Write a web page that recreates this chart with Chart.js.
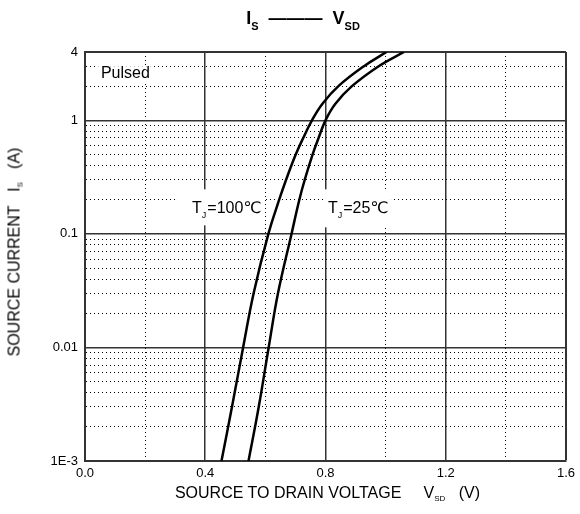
<!DOCTYPE html>
<html>
<head>
<meta charset="utf-8">
<style>
  body { margin: 0; background: #fff; font-family: "Liberation Sans", Arial, sans-serif; }
  #wrap { position: relative; width: 580px; height: 514px; }
  .lbl { position: absolute; color: #000; white-space: nowrap; }
  .lbl sub { font-size: 8px; vertical-align: -3px; }
  #title { left: 0; width: 606px; top: 8px; text-align: center; font-weight: bold; font-size: 18px; }
  #title sub { font-size: 11px; vertical-align: -6px; }
  #xtitle { left: 85px; width: 485px; top: 484px; text-align: center; font-size: 16px; }
  #ytitle { left: 15px; top: 252px; font-size: 16px; transform: translate(-50%, -50%) rotate(-90deg); }
</style>
</head>
<body>
<div id="wrap">
  <canvas id="myChart" width="580" height="514"></canvas>
  <div class="lbl" id="title">I<sub>S</sub>&nbsp;&nbsp;———&nbsp;&nbsp;V<sub>SD</sub></div>
  <div class="lbl" id="xtitle">SOURCE TO DRAIN VOLTAGE&nbsp;&nbsp;&nbsp;&nbsp;&nbsp;V<sub>SD</sub>&nbsp;&nbsp;&nbsp;(V)</div>
  <div class="lbl" id="ytitle">SOURCE CURRENT&nbsp;&nbsp;&nbsp;I<sub>S</sub>&nbsp;&nbsp;&nbsp;(A)</div>
</div>

<script src="https://cdn.jsdelivr.net/npm/chart.js"></script>
<script>
// curves: voltage (V) vs source current (A)
const vsd100 = [0.454, 0.489, 0.526, 0.561, 0.610, 0.646, 0.669, 0.701, 0.726, 0.755, 0.790, 0.843, 0.928, 1.003];
const is100  = [0.001, 0.003, 0.01,  0.03,  0.1,   0.2,   0.3,   0.5,   0.7,   1,     1.4,   2,     3,     4];
const vsd25  = [0.544, 0.578, 0.611, 0.642, 0.687, 0.713, 0.731, 0.757, 0.777, 0.800, 0.833, 0.888, 0.977, 1.061];
const is25   = [0.001, 0.003, 0.01,  0.03,  0.1,   0.2,   0.3,   0.5,   0.7,   1,     1.4,   2,     3,     4];

const xTicks = [0, 0.2, 0.4, 0.6, 0.8, 1.0, 1.2, 1.4, 1.6];
const xLabels = ["0.0", "", "0.4", "", "0.8", "", "1.2", "", "1.6"];
const yTicks = [0.001,0.002,0.003,0.004,0.005,0.006,0.007,0.008,0.009,
                0.01,0.02,0.03,0.04,0.05,0.06,0.07,0.08,0.09,
                0.1,0.2,0.3,0.4,0.5,0.6,0.7,0.8,0.9,
                1,2,3,4];
const yMajor = [0.001, 0.01, 0.1, 1, 4];
const yLabels = {"0.001":"1E-3", "0.01":"0.01", "0.1":"0.1", "1":"1", "4":"4"};

const notes = [
  { text: "Pulsed", x: 0.053, y: 2.6, box: [-3, -7, 56, 15] },
  { text: "T", sub: "J", rest: "=100℃", x: 0.356, y: 0.168, box: [-15, -19, 88, 36] },
  { text: "T", sub: "J", rest: "=25℃", x: 0.808, y: 0.168, box: [-3, -19, 66, 38] }
];

const pts = (xs, ys) => xs.map((x, i) => ({x: x, y: ys[i]}));
const isMajorY = v => yMajor.some(m => Math.abs(m - v) < 1e-9);

const notePlugin = {
  id: 'notes',
  beforeDatasetsDraw(chart) {
    const c = chart.ctx, sx = chart.scales.x, sy = chart.scales.y;
    c.save();
    notes.forEach(n => {
      const px = sx.getPixelForValue(n.x), py = sy.getPixelForValue(n.y);
      c.fillStyle = '#fff';
      c.fillRect(px + n.box[0], py + n.box[1], n.box[2], n.box[3]);
      c.fillStyle = '#000';
      c.textBaseline = 'middle';
      c.font = '16px "Liberation Sans", Arial, sans-serif';
      c.fillText(n.text, px, py);
      if (n.sub) {
        let w = c.measureText(n.text).width;
        c.font = '9px "Liberation Sans", Arial, sans-serif';
        c.fillText(n.sub, px + w, py + 7);
        w += c.measureText(n.sub).width + 1;
        c.font = '16px "Liberation Sans", "DejaVu Sans", sans-serif';
        c.fillText(n.rest, px + w, py);
      }
    });
    c.restore();
  }
};

const ctx = document.getElementById('myChart');
new Chart(ctx, {
  type: 'scatter',
  data: {
    datasets: [
      { label: 'TJ=100', data: pts(vsd100, is100), showLine: true, borderColor: '#000',
        borderWidth: 2.5, pointRadius: 0, tension: 0.4 },
      { label: 'TJ=25', data: pts(vsd25, is25), showLine: true, borderColor: '#000',
        borderWidth: 2.5, pointRadius: 0, tension: 0.4 }
    ]
  },
  options: {
    responsive: false,
    animation: false,
    devicePixelRatio: 1,
    layout: { padding: { top: 52, right: 10, left: 0, bottom: 0 } },
    plugins: { legend: { display: false }, tooltip: { enabled: false } },
    scales: {
      x: {
        type: 'linear', min: 0, max: 1.6,
        afterBuildTicks: s => { s.ticks = xTicks.map(v => ({value: v})); },
        afterFit: s => { s.height = 53; },
        ticks: {
          autoSkip: false, maxRotation: 0, padding: 5, color: '#000',
          font: { family: '"Liberation Sans", Arial, sans-serif', size: 13 },
          callback: (v, i) => xLabels[i]
        },
        grid: {
          drawTicks: false,
          color: c => (c.index % 2 === 0 || c.index === 8) ? '#333' : '#000',
          lineWidth: c => (c.index === 8) ? 2 : (c.index % 2 === 0 ? 1.5 : 1)
        },
        border: {
          display: true, color: '#333', width: 2,
          dash: c => (c.tick && c.index % 2 === 1) ? [1, 3] : []
        }
      },
      y: {
        type: 'logarithmic', min: 0.001, max: 4,
        afterBuildTicks: s => { s.ticks = yTicks.map(v => ({value: v})); },
        afterFit: s => { s.width = 85; },
        ticks: {
          autoSkip: false, padding: 7, color: '#000',
          font: { family: '"Liberation Sans", Arial, sans-serif', size: 13 },
          callback: v => yLabels[String(v)] || ''
        },
        grid: {
          drawTicks: false,
          color: c => (c.tick && isMajorY(c.tick.value)) ? '#333' : '#000',
          lineWidth: c => (c.tick && c.tick.value === 4) ? 2 : ((c.tick && isMajorY(c.tick.value)) ? 1.5 : 1)
        },
        border: {
          display: true, color: '#333', width: 2,
          dash: c => (c.tick && !isMajorY(c.tick.value)) ? [1, 3] : []
        }
      }
    }
  },
  plugins: [notePlugin]
});
</script>
</body>
</html>
